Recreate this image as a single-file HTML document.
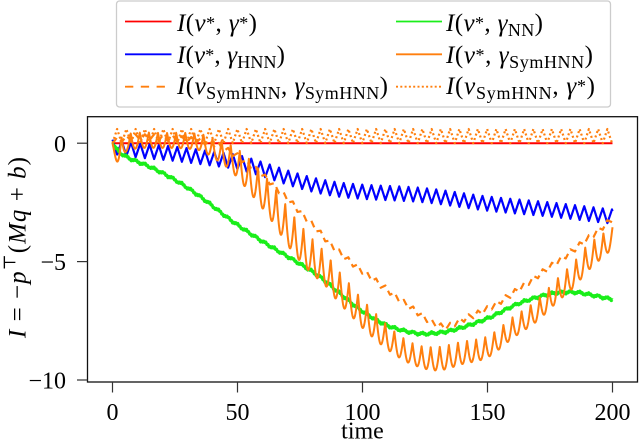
<!DOCTYPE html>
<html>
<head>
<meta charset="utf-8">
<style>
html,body{margin:0;padding:0;background:#fff;}
svg{display:block;}
text{font-family:"Liberation Serif","DejaVu Serif",serif;fill:#000;}
.it{font-style:italic;}
</style>
</head>
<body>
<svg id="s" width="640" height="441" viewBox="0 0 640 441" xmlns="http://www.w3.org/2000/svg">
<rect x="0" y="0" width="640" height="441" fill="#fff"/>

<!-- legend -->
<rect x="116.5" y="1" width="494" height="106" rx="3" fill="#fff" stroke="#cccccc" stroke-width="1.3"/>
<line x1="125" y1="21.5" x2="171.5" y2="21.5" stroke="#ff0000" stroke-width="1.8"/>
<line x1="125" y1="54.3" x2="171.5" y2="54.3" stroke="#0000ff" stroke-width="1.8"/>
<line x1="125" y1="86.7" x2="171.5" y2="86.7" stroke="#ff7f0e" stroke-width="1.8" stroke-dasharray="8.3 7.5"/>
<line x1="396" y1="21.5" x2="442" y2="21.5" stroke="#1aee1a" stroke-width="1.8"/>
<line x1="396" y1="54.3" x2="442" y2="54.3" stroke="#ff7f0e" stroke-width="1.8"/>
<line x1="396" y1="86.7" x2="442" y2="86.7" stroke="#ff7f0e" stroke-width="1.8" stroke-dasharray="2 2.3"/>

<text x="177" y="31" font-size="25" textLength="80" lengthAdjust="spacing"><tspan class="it">I</tspan>(<tspan class="it">v</tspan><tspan font-size="18" dy="-2">*</tspan><tspan dy="2">, </tspan><tspan class="it">γ</tspan><tspan font-size="18" dy="-2">*</tspan><tspan dy="2">)</tspan></text>
<text x="177" y="63" font-size="25" textLength="108" lengthAdjust="spacing"><tspan class="it">I</tspan>(<tspan class="it">v</tspan><tspan font-size="18" dy="-2">*</tspan><tspan dy="2">, </tspan><tspan class="it">γ</tspan><tspan font-size="18" dy="5">HNN</tspan><tspan dy="-5">)</tspan></text>
<text x="177" y="94" font-size="25" textLength="211" lengthAdjust="spacing"><tspan class="it">I</tspan>(<tspan class="it">v</tspan><tspan font-size="18" dy="5">SymHNN</tspan><tspan dy="-5">, </tspan><tspan class="it">γ</tspan><tspan font-size="18" dy="5">SymHNN</tspan><tspan dy="-5">)</tspan></text>

<text x="446" y="31" font-size="25" textLength="97" lengthAdjust="spacing"><tspan class="it">I</tspan>(<tspan class="it">v</tspan><tspan font-size="18" dy="-2">*</tspan><tspan dy="2">, </tspan><tspan class="it">γ</tspan><tspan font-size="18" dy="5">NN</tspan><tspan dy="-5">)</tspan></text>
<text x="446" y="63" font-size="25" textLength="147" lengthAdjust="spacing"><tspan class="it">I</tspan>(<tspan class="it">v</tspan><tspan font-size="18" dy="-2">*</tspan><tspan dy="2">, </tspan><tspan class="it">γ</tspan><tspan font-size="18" dy="5">SymHNN</tspan><tspan dy="-5">)</tspan></text>
<text x="446" y="94" font-size="25" textLength="149" lengthAdjust="spacing"><tspan class="it">I</tspan>(<tspan class="it">v</tspan><tspan font-size="18" dy="5">SymHNN</tspan><tspan dy="-5">, </tspan><tspan class="it">γ</tspan><tspan font-size="18" dy="-2">*</tspan><tspan dy="2">)</tspan></text>

<!-- series -->
<g id="series" fill="none" stroke-linejoin="round"></g>

<!-- axes frame -->
<rect x="87.5" y="116.7" width="550" height="265.3" fill="none" stroke="#111" stroke-width="1.3"/>
<g stroke="#333" stroke-width="1.2">
<line x1="77" y1="143.2" x2="87.5" y2="143.2"/>
<line x1="77" y1="261.6" x2="87.5" y2="261.6"/>
<line x1="77" y1="380" x2="87.5" y2="380"/>
<line x1="112.5" y1="382" x2="112.5" y2="392.5"/>
<line x1="237.5" y1="382" x2="237.5" y2="392.5"/>
<line x1="362.5" y1="382" x2="362.5" y2="392.5"/>
<line x1="487.5" y1="382" x2="487.5" y2="392.5"/>
<line x1="612.5" y1="382" x2="612.5" y2="392.5"/>
</g>
<g font-size="24" text-anchor="end">
<text x="66" y="152">0</text>
<text x="66" y="270">−5</text>
<text x="66" y="388.5">−10</text>
</g>
<g font-size="24" text-anchor="middle">
<text x="112.5" y="420">0</text>
<text x="237.5" y="420">50</text>
<text x="362.5" y="420">100</text>
<text x="487.5" y="420">150</text>
<text x="612.5" y="420">200</text>
<text x="362.5" y="438.5">time</text>
</g>
<text transform="translate(25.5,247.5) rotate(-90)" font-size="25" text-anchor="middle" textLength="181" lengthAdjust="spacing"><tspan class="it">I</tspan> = −<tspan class="it">p</tspan><tspan font-size="17" dy="-10">⊤</tspan><tspan dy="10">(</tspan><tspan class="it">Mq</tspan> + <tspan class="it">b</tspan>)</text>
</svg>
<script>
(function(){
function cr(pts,t){
  var n=pts.length;
  if(t<=pts[0][0]) return pts[0][1];
  if(t>=pts[n-1][0]) return pts[n-1][1];
  var i=0; while(i<n-2 && t>pts[i+1][0]) i++;
  var p0=pts[Math.max(i-1,0)],p1=pts[i],p2=pts[i+1],p3=pts[Math.min(i+2,n-1)];
  var h=p2[0]-p1[0];
  var u=(t-p1[0])/h;
  var m1=(p2[1]-p0[1])/((p2[0]-p0[0])||1)*h;
  var m2=(p3[1]-p1[1])/((p3[0]-p1[0])||1)*h;
  var u2=u*u,u3=u2*u;
  return (2*u3-3*u2+1)*p1[1]+(u3-2*u2+u)*m1+(-2*u3+3*u2)*p2[1]+(u3-u2)*m2;
}
function X(t){return 112.5+2.5*t;}
function Y(v){return 143.2-23.67*v;}
function frac(x){return x-Math.floor(x);}
function tri(x){return 1-2*Math.abs(2*frac(x)-1);}
var P=3.7;
var PO=200/55;
var bm=[[0,-0.15],[10,-0.3],[25,-0.45],[40,-0.65],[50,-0.8],[60,-1.1],[70,-1.45],[80,-1.75],[90,-1.95],[100,-2.05],[125,-2.2],[150,-2.55],[175,-2.8],[200,-3.1]];
var gm=[[0,0],[2,-0.3],[6,-0.6],[15,-1.0],[25,-1.55],[35,-2.25],[48,-3.3],[60,-4.15],[75,-5.1],[83,-5.65],[91,-6.35],[100,-7.1],[110,-7.7],[120,-8.0],[126,-8.05],[136,-7.9],[150,-7.4],[163,-6.75],[176,-6.35],[185,-6.3],[190,-6.38],[200,-6.6]];
var om=[[0,-0.3],[3,-0.3],[6,0.05],[20,0.12],[35,0.05],[40,-0.2],[45,-0.45],[50,-0.85],[55,-1.4],[60,-2.0],[65,-2.7],[70,-3.5],[75,-4.2],[80,-4.8],[85,-5.3],[90,-6.0],[95,-6.6],[100,-7.2],[110,-8.2],[120,-8.9],[130,-9.1],[140,-8.85],[150,-8.6],[160,-7.8],[170,-7.05],[178,-6.2],[185,-5.5],[190,-4.85],[200,-4.0]];
var oa=[[0,0.3],[3,0.5],[6,0.35],[35,0.35],[45,0.5],[55,0.7],[70,0.8],[85,0.7],[100,0.6],[120,0.45],[130,0.5],[150,0.45],[170,0.45],[190,0.55],[200,0.45]];
var dm=[[0,0.1],[10,0.25],[25,0.2],[40,0],[45,-0.25],[50,-0.55],[60,-1.35],[70,-2.35],[80,-3.45],[90,-4.55],[100,-5.4],[110,-6.2],[120,-7.0],[132,-7.75],[140,-7.45],[150,-7.0],[160,-6.35],[170,-5.6],[180,-4.85],[190,-4.05],[200,-3.2]];
function path(f){
  var s='',dt=0.05;
  for(var k=0;k<=4000;k++){
    var t=k*dt;
    s+=(k?'L':'M')+X(t).toFixed(2)+' '+Y(f(t)).toFixed(2);
  }
  return s;
}
var series=[
 {f:function(t){return 0;},c:'#ff0000',w:2},
 {f:function(t){return cr(bm,t)+0.3*tri(t/P+0.5);},c:'#0000ff',w:2.2},
 {f:function(t){return cr(dm,t)+0.12*tri(t/P);},c:'#ff7f0e',w:2.2,d:'7 5'},
 {f:function(t){return cr(gm,t)+0.05*tri(t/P)+0.03*Math.sin(t*7.3);},c:'#1aee1a',w:3},
 {f:function(t){return cr(om,t)+cr(oa,t)*(1-2*Math.abs(Math.sin(Math.PI*t/PO)));},c:'#ff7f0e',w:2},
 {f:function(t){return 0.3+0.3*tri(t/P);},c:'#ff7f0e',w:2.2,d:'2 2.6'}
];
var g=document.getElementById('series');
var ns='http://www.w3.org/2000/svg';
series.forEach(function(s){
  var p=document.createElementNS(ns,'path');
  p.setAttribute('d',path(s.f));
  p.setAttribute('stroke',s.c);
  p.setAttribute('stroke-width',s.w);
  if(s.d) p.setAttribute('stroke-dasharray',s.d);
  g.appendChild(p);
});
})();
</script>
</body>
</html>
